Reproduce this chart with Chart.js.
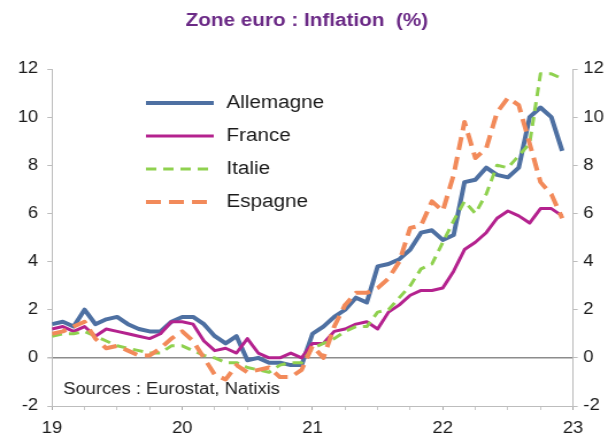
<!DOCTYPE html>
<html>
<head>
<meta charset="utf-8">
<script src="https://cdn.jsdelivr.net/npm/chart.js@4"></script>
<style>
  html, body { margin: 0; padding: 0; background: #fff; overflow: hidden; }
  #wrap { width: 616px; height: 436px; }
  /* the original picture is stretched horizontally, so is this one */
  canvas { display: block; transform: scaleX(1.1493); transform-origin: 0 0; }
</style>
</head>
<body>
<div id="wrap"><canvas id="mycanvas" width="536" height="436"></canvas></div>
<script>
var titre = "Zone euro : Inflation  (%)";
var source = "Sources : Eurostat, Natixis";
var annees = ["19", "20", "21", "22", "23"];
var pays = ["Allemagne", "France", "Italie", "Espagne"];

// monthly values, Jan 2019 -> Dec 2022
var allemagne = [1.4, 1.5, 1.3, 2.0, 1.4, 1.6, 1.7, 1.4, 1.2, 1.1, 1.1, 1.5,
                 1.7, 1.7, 1.4, 0.9, 0.6, 0.9, -0.1, 0.0, -0.2, -0.2, -0.3, -0.3,
                 1.0, 1.3, 1.7, 2.0, 2.5, 2.3, 3.8, 3.9, 4.1, 4.5, 5.2, 5.3,
                 4.9, 5.1, 7.3, 7.4, 7.9, 7.6, 7.5, 7.9, 10.0, 10.4, 10.0, 8.6];
var france = [1.2, 1.3, 1.1, 1.3, 0.9, 1.2, 1.1, 1.0, 0.9, 0.8, 1.0, 1.5,
              1.5, 1.4, 0.7, 0.3, 0.4, 0.2, 0.8, 0.2, 0.0, 0.0, 0.2, 0.0,
              0.6, 0.6, 1.1, 1.2, 1.4, 1.5, 1.2, 1.9, 2.2, 2.6, 2.8, 2.8,
              2.9, 3.6, 4.5, 4.8, 5.2, 5.8, 6.1, 5.9, 5.6, 6.2, 6.2, 5.9];
var italie = [0.9, 1.0, 1.0, 1.1, 0.9, 0.7, 0.5, 0.4, 0.3, 0.2, 0.2, 0.5,
              0.5, 0.3, 0.1, 0.0, -0.2, -0.2, -0.4, -0.5, -0.6, -0.3, -0.2, -0.2,
              0.4, 0.6, 0.8, 1.1, 1.3, 1.3, 1.9, 2.0, 2.5, 3.0, 3.7, 3.9,
              4.8, 5.7, 6.5, 6.0, 6.8, 8.0, 7.9, 8.4, 8.9, 11.8, 11.8, 11.6];
var espagne = [1.0, 1.1, 1.3, 1.5, 0.8, 0.4, 0.5, 0.3, 0.1, 0.1, 0.4, 0.8,
               1.1, 0.7, 0.0, -0.7, -0.9, -0.3, -0.6, -0.5, -0.4, -0.8, -0.8, -0.5,
               0.5, 0.0, 1.3, 2.2, 2.7, 2.7, 2.9, 3.3, 4.0, 5.4, 5.5, 6.5,
               6.1, 7.6, 9.8, 8.3, 8.7, 10.2, 10.8, 10.5, 8.9, 7.3, 6.8, 5.8];

var police = '"Liberation Sans", Arial, sans-serif';

function points(arr) {
  return arr.map(function(v, i) { return { x: i, y: v }; });
}

// title, legend inside the plot and source note
var decor = {
  id: 'decor',
  afterDraw: function(chart) {
    var ctx = chart.ctx;
    ctx.save();
    ctx.fillStyle = '#6B2A86';
    ctx.font = 'bold 18px ' + police;
    ctx.textAlign = 'center';
    ctx.textBaseline = 'middle';
    ctx.fillText(titre, 267, 21);

    var rows = [103, 136, 169, 202];
    chart.data.datasets.forEach(function(ds, i) {
      ctx.beginPath();
      ctx.strokeStyle = ds.borderColor;
      ctx.lineWidth = ds.borderWidth;
      ctx.setLineDash(ds.borderDash || []);
      ctx.moveTo(127, rows[i]);
      ctx.lineTo(186, rows[i]);
      ctx.stroke();
      ctx.setLineDash([]);
      ctx.fillStyle = '#1a1a1a';
      ctx.font = '18px ' + police;
      ctx.textAlign = 'left';
      ctx.fillText(ds.label, 197, rows[i]);
    });

    ctx.font = '16px ' + police;
    ctx.fillStyle = '#222';
    ctx.fillText(source, 55, 390);
    ctx.restore();
  }
};

var ctx = document.getElementById('mycanvas');

var lineChart = new Chart(ctx, {
  type: 'line',
  data: {
    datasets: [
      {
        label: pays[0],
        data: points(allemagne),
        borderColor: '#4E70A2',
        borderWidth: 4,
        order: 3
      },
      {
        label: pays[1],
        data: points(france),
        borderColor: '#B4228E',
        borderWidth: 3,
        order: 2
      },
      {
        label: pays[2],
        data: points(italie),
        borderColor: '#8FD14F',
        borderWidth: 3,
        borderDash: [9, 6],
        order: 1
      },
      {
        label: pays[3],
        data: points(espagne),
        borderColor: '#F28A5A',
        borderWidth: 4,
        borderDash: [13, 7],
        order: 0
      }
    ]
  },
  options: {
    responsive: false,
    animation: false,
    devicePixelRatio: 1,
    layout: { padding: { top: 69, left: 0, right: 0, bottom: 0 } },
    elements: {
      point: { radius: 0 },
      line: { tension: 0, fill: false, borderJoinStyle: 'round' }
    },
    plugins: {
      legend: { display: false },
      tooltip: { enabled: false },
      title: { display: false }
    },
    scales: {
      x: {
        type: 'linear',
        min: 0,
        max: 48,
        afterFit: function(s) { s.height = 30; },
        border: { color: '#bdbdbd', width: 1 },
        grid: {
          drawOnChartArea: false,
          tickLength: 4,
          color: function(c) { return c.tick && c.tick.value % 12 === 0 ? '#a8a8a8' : '#c8c8c8'; }
        },
        ticks: {
          stepSize: 3,
          autoSkip: false,
          maxRotation: 0,
          padding: 9,
          color: '#1a1a1a',
          font: { family: police, size: 16 },
          callback: function(v) { return v % 12 === 0 ? annees[v / 12] : ''; }
        }
      },
      y: {
        position: 'left',
        min: -2,
        max: 12,
        afterFit: function(s) { s.width = 45.2; },
        border: { color: '#bdbdbd', width: 1 },
        grid: {
          tickLength: 4,
          tickColor: '#bdbdbd',
          color: function(c) { return c.tick && c.tick.value === 0 ? '#8c8c8c' : 'rgba(0,0,0,0)'; },
          lineWidth: function(c) { return c.tick && c.tick.value === 0 ? 1.5 : 1; }
        },
        ticks: {
          stepSize: 2,
          padding: 8,
          color: '#1a1a1a',
          font: { family: police, size: 16 }
        }
      },
      y2: {
        position: 'right',
        min: -2,
        max: 12,
        afterFit: function(s) { s.width = 37.4; },
        border: { color: '#bdbdbd', width: 1 },
        grid: { drawOnChartArea: false, tickLength: 4, color: '#bdbdbd' },
        ticks: {
          stepSize: 2,
          padding: 5,
          color: '#1a1a1a',
          font: { family: police, size: 16 }
        }
      }
    }
  },
  plugins: [decor]
});
</script>
</body>
</html>
